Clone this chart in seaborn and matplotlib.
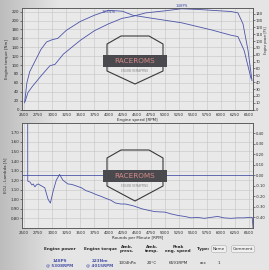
import numpy as np
import pandas as pd
import matplotlib
matplotlib.use("Agg")
import matplotlib.pyplot as plt
from matplotlib.patches import Polygon, Rectangle
import seaborn as sns

# ---------------- data ----------------
rpm_torque = [2510, 2550, 2600, 2700, 2800, 2900, 3000, 3100, 3250, 3500, 3750,
              4000, 4250, 4430, 4780, 5300, 5830, 6180, 6300, 6410, 6535]
torque_nm = [15, 60, 85, 110, 135, 152, 157, 160, 178, 198, 212,
             223, 221, 212, 205, 195, 179, 167, 164, 133, 69]

rpm_power = [2520, 2570, 2650, 2800, 2960, 3050, 3200, 3500, 3750, 4000, 4240,
             4430, 4660, 5000, 5300, 5600, 6180, 6300, 6390, 6480, 6550]
power_ps = [12, 25, 34, 49, 64, 66, 81, 101, 115, 125, 133,
            136, 141, 144, 147, 146, 143, 141, 125, 86, 42]

rpm_lambda = [2565, 2566, 2605, 2640, 2664, 2693, 2720, 2751, 2780, 2810, 2868,
              2927, 2968, 3015, 3073, 3132, 3190, 3278, 3350, 3424, 3520, 3600,
              3700, 3775, 3870, 3950, 4040, 4126, 4220, 4301, 4447, 4593, 4700,
              4827, 5003, 5120, 5237, 5350, 5470, 5580, 5704, 5820, 5939, 6050,
              6172, 6300, 6406, 6500, 6553, 6570]
lambda_val = [1.90, 1.19, 1.18, 1.15, 1.16, 1.13, 1.15, 1.16, 1.15, 1.14, 1.12,
              1.00, 0.96, 1.08, 1.20, 1.26, 1.20, 1.16, 1.155, 1.14, 1.12, 1.09,
              1.07, 1.05, 1.03, 1.01, 0.99, 0.96, 0.95, 0.95, 0.93, 0.90, 0.885,
              0.87, 0.865, 0.845, 0.83, 0.82, 0.805, 0.81, 0.80, 0.81, 0.82, 0.805,
              0.80, 0.805, 0.805, 0.81, 0.81, 0.69]

lambda_dev_rpm = [2450, 6575]
lambda_dev = [0.0, 0.0]

x_ticks = [2500, 2750, 3000, 3250, 3500, 3750, 4000, 4250, 4500, 4750, 5000,
           5250, 5500, 5750, 6000, 6250, 6500]
torque_ticks = list(range(0, 221, 20))
power_ticks = list(range(0, 141, 10))
lambda_ticks = [0.80, 0.90, 1.00, 1.10, 1.20, 1.30, 1.40, 1.50, 1.60, 1.70]
dev_ticks = [-0.40, -0.30, -0.20, -0.10, 0.00, 0.10, 0.20, 0.30, 0.40]

peak_torque_label = "223Nm"
peak_power_label = "148PS"

table_headers = ["Engine power", "Engine torque", "Amb.\npress.", "Amb.\ntemp.",
                 "Peak\neng. speed", "Type:"]
table_values = ["148PS\n@ 5308RPM", "223Nm\n@ 4015RPM", "1004hPa", "20°C",
                "6591RPM", "acc"]

# ---------------- style ----------------
sns.set_theme(style="whitegrid")
plt.rcParams['font.family'] = ['DejaVu Sans']
LINE = "#4b54a8"
BG = "#e4e4e4"
AXBG = "#e9e9e9"
GRID = "#c4c4c4"
TXT = "#2a2a2a"
FS = 2.9

fig = plt.figure(figsize=(2.69, 2.70), dpi=100)
fig.patch.set_facecolor(BG)

# subtle photo shading at left
grad = np.tile(np.linspace(0.74, 0.90, 60)[None, :], (270, 1))
grad = np.concatenate([grad, np.full((270, 209), 0.90)], axis=1)
fig.figimage(np.dstack([grad, grad, grad]), xo=0, yo=0, zorder=-10)

def style_axes(ax):
    ax.set_facecolor(AXBG)
    ax.grid(True, color=GRID, linewidth=0.4)
    for s in ax.spines.values():
        s.set_color("#555555")
        s.set_linewidth(0.5)
    ax.tick_params(axis="both", labelsize=FS, colors=TXT, length=1.2, width=0.4, pad=1)

AX_W = 0.859

# ---- top panel ----
ax1 = fig.add_axes([0.082, 0.594, AX_W, 0.376])
style_axes(ax1)
dft = pd.DataFrame({"rpm": rpm_torque, "torque": torque_nm})
sns.lineplot(data=dft, x="rpm", y="torque", ax=ax1, color=LINE, linewidth=0.6)
ax1.set_xlim(2465, 6570)
ax1.set_ylim(0, 228)
ax1.set_xticks(x_ticks)
ax1.set_xticklabels([str(v) for v in x_ticks])
ax1.set_yticks(torque_ticks)
ax1.set_xlabel("Engine speed [RPM]", fontsize=FS, color=TXT, labelpad=1)
ax1.set_ylabel("Engine torque [Nm]", fontsize=FS, color=TXT, labelpad=2)
i_t = int(np.argmax(torque_nm))
ax1.text(rpm_torque[i_t], torque_nm[i_t], peak_torque_label, fontsize=FS,
         color=LINE, ha="center", va="top")

ax1b = ax1.twinx()
dfp = pd.DataFrame({"rpm": rpm_power, "power": power_ps})
sns.lineplot(data=dfp, x="rpm", y="power", ax=ax1b, color=LINE, linewidth=0.6)
ax1b.set_ylim(0, 148)
ax1b.set_yticks(power_ticks)
ax1b.grid(False)
ax1b.tick_params(axis="y", labelsize=2.7, colors=TXT, length=1.2, width=0.4, pad=0.8)
for s in ax1b.spines.values():
    s.set_color("#555555"); s.set_linewidth(0.5)
ax1b.set_ylabel("")
fig.text(266.5 / 269, 1 - 40 / 270, "Engine power [PS]", fontsize=2.2, color=TXT,
         rotation=90, ha="center", va="center")
i_p = int(np.argmax(power_ps))
ax1b.text(rpm_power[i_p], power_ps[i_p] + 0.5, peak_power_label, fontsize=FS,
          color=LINE, ha="center", va="bottom")

# ---- bottom panel ----
ax2 = fig.add_axes([0.082, 0.156, AX_W, 0.389])
style_axes(ax2)
dfl = pd.DataFrame({"rpm": rpm_lambda, "lam": lambda_val})
sns.lineplot(data=dfl, x="rpm", y="lam", ax=ax2, color=LINE, linewidth=0.6, sort=False)
ax2.set_xlim(2465, 6570)
ax2.set_ylim(0.70, 1.80)
ax2.set_xticks(x_ticks)
ax2.set_xticklabels([str(v) for v in x_ticks])
ax2.set_yticks(lambda_ticks)
ax2.set_yticklabels([f"{v:.2f}" for v in lambda_ticks])
ax2.set_xlabel("Rounds per Minute [RPM]", fontsize=FS, color=TXT, labelpad=1)
ax2.set_ylabel("ECU - Lambda [λ]", fontsize=FS, color=TXT, labelpad=2)

ax2b = ax2.twinx()
dfd = pd.DataFrame({"rpm": lambda_dev_rpm, "dev": lambda_dev})
sns.lineplot(data=dfd, x="rpm", y="dev", ax=ax2b, color=LINE, linewidth=0.6)
ax2b.set_ylim(-0.5, 0.5)
ax2b.set_yticks(dev_ticks)
ax2b.set_yticklabels([f"{v:.2f}" for v in dev_ticks])
ax2b.grid(False)
ax2b.set_ylabel("")
ax2b.tick_params(axis="y", labelsize=2.7, colors=TXT, length=1.2, width=0.4, pad=0.8)
for s in ax2b.spines.values():
    s.set_color("#555555"); s.set_linewidth(0.5)

# ---- logos (watermark) ----
def logo(cx, cy_banner, top, bottom):
    W, H = 269.0, 270.0
    def f(x, y):
        return (x / W, 1 - y / H)
    shield = [f(cx - 28, top + 8), f(cx - 14, top), f(cx + 14, top), f(cx + 28, top + 8),
              f(cx + 28, cy_banner + 10), f(cx, bottom), f(cx - 28, cy_banner + 10)]
    fig.patches.append(Polygon(shield, closed=True, fill=False, edgecolor="#3a3a3a",
                               linewidth=0.8, transform=fig.transFigure, zorder=5))
    x0, y0 = f(cx - 32, cy_banner + 6)
    fig.patches.append(Rectangle((x0, y0), 64 / W, 12 / H, facecolor="#4a4a4e",
                                 edgecolor="none", transform=fig.transFigure, zorder=6))
    fig.text(cx / W, 1 - cy_banner / H, "RACEROMS", fontsize=5.2, color="#d88a8a",
             ha="center", va="center", zorder=7)
    fig.text(cx / W, 1 - (cy_banner + 10) / H, "ENGINE REMAPPING", fontsize=2.0,
             color="#8a8a8a", ha="center", va="center", zorder=7)

logo(135, 61, 36, 84)
logo(135, 176, 150, 201)

# ---- table ----
cols_x = [60, 100, 127, 152, 178, 203]
for x, h in zip(cols_x, table_headers):
    fig.text(x / 269, 1 - 249 / 270, h, fontsize=3.0, fontweight="bold", color=TXT,
             ha="center", va="center", linespacing=1.1)
for i, (x, v) in enumerate(zip(cols_x, table_values)):
    fig.text(x / 269, 1 - 263 / 270, v, fontsize=3.0,
             fontweight="bold" if i < 2 else "normal",
             color=LINE if i < 2 else TXT, ha="center", va="center", linespacing=1.1)
fig.text(219 / 269, 1 - 249 / 270, "Name", fontsize=3.0, color=TXT, ha="center", va="center",
         bbox=dict(boxstyle="round,pad=0.3", fc="#f0f0f0", ec="#999999", lw=0.3))
fig.text(243 / 269, 1 - 249 / 270, "Comment", fontsize=3.0, color=TXT, ha="center", va="center",
         bbox=dict(boxstyle="round,pad=0.3", fc="#f0f0f0", ec="#999999", lw=0.3))
fig.text(219 / 269, 1 - 263 / 270, "1", fontsize=3.0, color=TXT, ha="center", va="center")

fig.savefig("out.png", dpi=100, facecolor=fig.get_facecolor())
